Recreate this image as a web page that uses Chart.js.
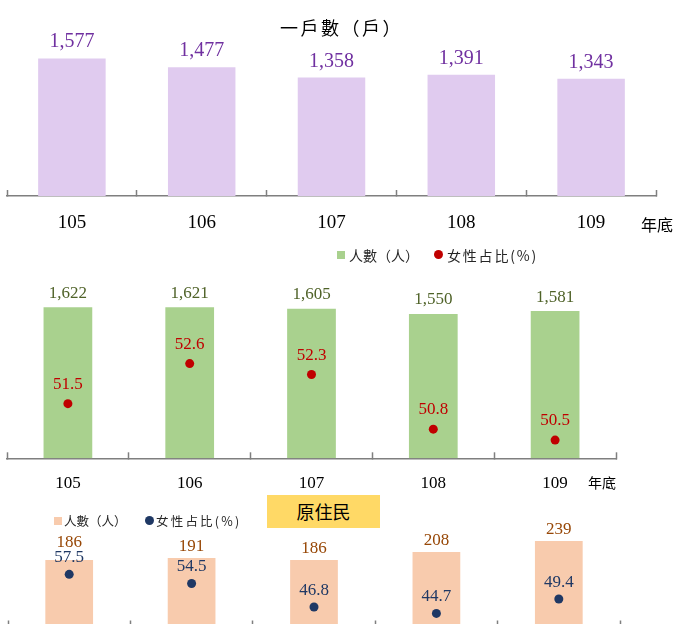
<!DOCTYPE html>
<html>
<head>
<meta charset="utf-8">
<script src="https://cdn.jsdelivr.net/npm/chart.js@4"></script>
<style>
  html, body { margin: 0; padding: 0; background: #fff; }
  body {
    width: 674px; height: 624px; overflow: hidden; position: relative;
    font-family: "Noto Sans CJK TC", sans-serif; color: #262626;
  }
  canvas { position: absolute; left: 0; }
  .txt { position: absolute; white-space: nowrap; line-height: 20px; }
  .key { position: absolute; width: 8px; height: 8px; }
  .dot { width: 9px; height: 9px; border-radius: 50%; }
</style>
</head>
<body>
<canvas id="households" width="674" height="240" style="top:0"></canvas>
<canvas id="people" width="674" height="260" style="top:240px"></canvas>
<canvas id="aboriginal" width="674" height="170" style="top:490px"></canvas>

<div class="txt" style="left:280px;top:17px;font-size:18px;letter-spacing:2.5px;color:#000">一戶數（戶）</div>
<div class="txt" style="left:641px;top:214px;font-size:16px;color:#000">年底</div>

<div class="key" style="left:337px;top:251px;background:#a9d18e"></div>
<div class="txt" style="left:349px;top:245px;font-size:14px">人數（人）</div>
<div class="key dot" style="left:434px;top:250px;background:#c00000"></div>
<div class="txt" style="left:447px;top:245px;font-size:14px;letter-spacing:1.8px">女性占比(%)</div>
<div class="txt" style="left:588px;top:472px;font-size:14px;color:#000">年底</div>

<div style="position:absolute;left:267px;top:495px;width:113px;height:33px;background:#ffd966;
  font-size:18px;line-height:33px;text-align:center;color:#000">原住民</div>
<div class="key" style="left:54px;top:517px;background:#f8cbad"></div>
<div class="txt" style="left:64px;top:511px;font-size:12.5px">人數（人）</div>
<div class="key dot" style="left:145px;top:516px;background:#1f3864"></div>
<div class="txt" style="left:156px;top:511px;font-size:12.5px;letter-spacing:2.2px">女性占比(%)</div>

<script>
const years = ["105", "106", "107", "108", "109"];
const households = [1577, 1477, 1358, 1391, 1343];
const people = [1622, 1621, 1605, 1550, 1581];
const femaleShare = [51.5, 52.6, 52.3, 50.8, 50.5];
const aboriginalPeople = [186, 191, 186, 208, 239];
const aboriginalFemaleShare = [57.5, 54.5, 46.8, 44.7, 49.4];

const SERIF = '"Liberation Serif", "Times New Roman", serif';
const AXIS_GREY = "#7f7f7f";

// values written above each bar / dot; a bar value is nudged up when
// the dot label of the same year would run into it
const valueLabels = {
  id: "valueLabels",
  afterDatasetsDraw(chart) {
    const { ctx } = chart;
    const items = [];
    chart.data.datasets.forEach((ds, i) => {
      if (!ds.labelColor) return;
      chart.getDatasetMeta(i).data.forEach((el, j) => {
        const v = ds.data[j];
        items.push({
          ds,
          index: j,
          isBar: ds.type !== "line",
          x: el.x,
          y: el.y - ds.labelGap,
          capH: ds.labelSize * 0.68,
          text: ds.decimals ? v.toFixed(ds.decimals) : v.toLocaleString("en-US"),
        });
      });
    });

    items
      .filter((it) => it.isBar)
      .forEach((bar) => {
        const dot = items.find((it) => !it.isBar && it.index === bar.index);
        if (!dot) return;
        const dotTop = dot.y - dot.capH;
        if (bar.y > dotTop - 3.5 && dot.y > bar.y - bar.capH) {
          bar.y = dotTop - 3.5;
        }
      });

    items.forEach((it) => {
      ctx.save();
      ctx.font = `${it.ds.labelSize}px ${SERIF}`;
      ctx.fillStyle = it.ds.labelColor;
      ctx.textAlign = "center";
      ctx.textBaseline = "alphabetic";
      ctx.fillText(it.text, it.x, it.y);
      ctx.restore();
    });
  },
};

function xAxis(axisHeight, fontSize, padding) {
  return {
    type: "category",
    offset: true,
    grid: {
      offset: true,
      drawOnChartArea: false,
      tickLength: -6,
      tickColor: AXIS_GREY,
      tickWidth: 1.5,
    },
    border: { display: true, color: AXIS_GREY, width: 1.5 },
    ticks: { color: "#000", font: { family: SERIF, size: fontSize }, padding },
    afterFit(scale) {
      scale.height = axisHeight;
    },
  };
}

function baseOptions(padding) {
  return {
    responsive: false,
    animation: false,
    events: [],
    layout: { padding },
    plugins: { legend: { display: false }, tooltip: { enabled: false } },
  };
}

new Chart(document.getElementById("households"), {
  type: "bar",
  data: {
    labels: years,
    datasets: [
      {
        data: households,
        backgroundColor: "#e0cbef",
        barPercentage: 0.52,
        categoryPercentage: 1,
        labelColor: "#7030a0",
        labelSize: 20,
        labelGap: 11,
      },
    ],
  },
  options: {
    ...baseOptions({ left: 7, right: 18, top: 39, bottom: 0 }),
    scales: {
      x: xAxis(44, 19, 22),
      y: { display: false, min: 0, max: 1800 },
    },
  },
  plugins: [valueLabels],
});

new Chart(document.getElementById("people"), {
  type: "bar",
  data: {
    labels: years,
    datasets: [
      {
        type: "line",
        data: femaleShare,
        yAxisID: "y2",
        showLine: false,
        pointRadius: 4.5,
        pointBackgroundColor: "#c00000",
        pointBorderWidth: 0,
        order: 1,
        labelColor: "#c00000",
        labelSize: 17,
        labelGap: 15,
        decimals: 1,
      },
      {
        data: people,
        backgroundColor: "#a9d18e",
        barPercentage: 0.4,
        categoryPercentage: 1,
        order: 2,
        labelColor: "#4f6228",
        labelSize: 17,
        labelGap: 9.5,
      },
    ],
  },
  options: {
    ...baseOptions({ left: 7, right: 58, top: 50.7, bottom: 0 }),
    scales: {
      x: xAxis(41.7, 17, 21),
      y: { display: false, min: 0, max: 1800 },
      y2: { display: false, min: 50, max: 54.6 },
    },
  },
  plugins: [valueLabels],
});

new Chart(document.getElementById("aboriginal"), {
  type: "bar",
  data: {
    labels: years,
    datasets: [
      {
        type: "line",
        data: aboriginalFemaleShare,
        yAxisID: "y2",
        showLine: false,
        pointRadius: 4.5,
        pointBackgroundColor: "#1f3864",
        pointBorderWidth: 0,
        order: 1,
        labelColor: "#1f3864",
        labelSize: 17,
        labelGap: 12,
        decimals: 1,
      },
      {
        data: aboriginalPeople,
        backgroundColor: "#f8cbad",
        barPercentage: 0.39,
        categoryPercentage: 1,
        order: 2,
        labelColor: "#974706",
        labelSize: 17,
        labelGap: 7,
      },
    ],
  },
  options: {
    ...baseOptions({ left: 8, right: 54, top: 29.1, bottom: 0 }),
    scales: {
      x: xAxis(33.5, 17, 21),
      y: { display: false, min: 0, max: 300 },
      y2: { display: false, min: 40.4, max: 75.6 },
    },
  },
  plugins: [valueLabels],
});
</script>
</body>
</html>
